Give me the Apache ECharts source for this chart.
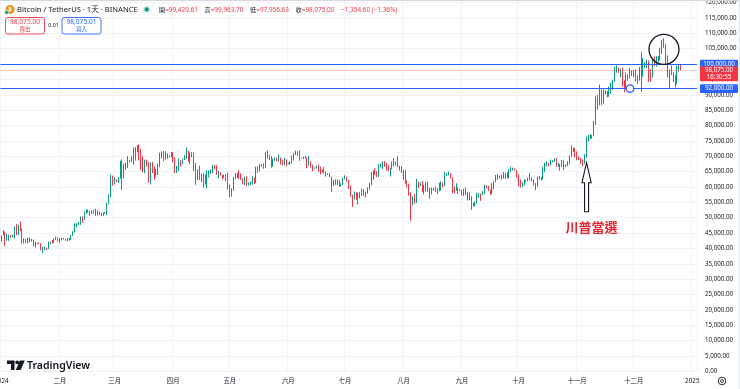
<!DOCTYPE html>
<html><head><meta charset="utf-8">
<script src="https://cdn.jsdelivr.net/npm/echarts@6/dist/echarts.min.js"></script>
<style>html,body{margin:0;padding:0;background:#fff}#c{width:740px;height:389px}</style>
</head><body><div id="c"></div>
<script>
// ---- Data (BTC/USDT daily, values in thousands of USD) ----
const firstOpenK = 42.3;
const closeK = [
 44.2,44.9,42.8,44.2,44.2,43.9,43.9,47.0,46.1,46.6,46.3,42.8,42.8,41.7,42.5,43.1,42.7,41.3,41.6,41.7,41.6,39.5,39.8,40.1,39.9,41.8,42.1,42.0,43.3,42.9,42.6,
 43.1,43.2,43.0,42.6,42.7,43.1,44.3,45.3,47.1,47.8,48.3,50.0,49.7,51.8,52.0,52.1,51.6,52.1,51.7,52.3,51.9,51.3,50.7,51.6,51.7,54.5,57.1,62.5,61.1,
 62.4,62.0,63.1,68.2,63.8,66.1,66.9,68.3,68.5,69.0,72.1,71.5,73.1,71.4,69.5,65.3,68.4,67.6,62.0,67.9,65.5,63.8,64.0,67.2,69.9,69.9,69.5,70.7,69.9,69.6,71.3,
 69.7,65.5,65.9,68.5,67.8,68.9,69.4,71.6,69.1,70.6,70.0,67.1,63.9,65.7,63.4,63.8,61.3,63.5,63.8,64.9,64.9,66.8,66.4,64.3,64.5,63.8,63.5,63.1,63.8,60.6,
 58.3,59.1,62.9,63.9,64.0,63.2,62.3,61.2,63.1,60.8,60.8,61.5,62.9,61.6,66.3,65.2,67.0,67.0,66.3,71.4,70.1,69.1,67.9,68.5,69.3,68.5,69.4,68.4,67.6,68.4,67.5,
 67.8,67.8,68.8,70.6,71.1,70.8,69.4,69.3,69.6,69.5,67.3,68.2,66.8,66.0,66.2,66.6,66.5,65.2,64.9,64.8,64.1,64.3,63.2,60.3,61.8,60.9,61.6,60.3,60.9,62.7,
 62.8,62.0,60.2,57.0,56.7,58.2,55.9,56.7,58.0,57.7,57.3,57.9,59.2,60.8,64.7,65.0,64.1,63.9,66.7,67.2,68.2,67.5,65.9,65.4,65.8,67.9,68.0,68.2,66.8,66.2,64.6,
 65.4,61.5,60.7,58.1,54.0,56.0,55.1,61.7,60.9,60.9,58.7,59.4,60.6,58.7,57.6,58.9,59.5,58.4,59.5,59.0,61.2,60.4,64.0,64.2,64.2,62.8,59.4,59.0,59.4,59.1,58.9,
 57.3,59.1,57.5,58.0,56.2,53.9,54.1,54.8,57.0,57.6,57.3,58.1,60.5,60.0,59.1,58.2,60.3,61.8,62.9,63.3,63.6,63.3,63.3,64.3,63.1,65.2,65.8,65.9,65.6,63.3,
 60.8,60.6,60.8,62.1,62.1,62.8,62.2,62.1,60.6,60.3,62.4,63.2,62.9,66.0,67.0,67.6,67.4,68.4,68.4,69.0,67.4,67.4,66.6,68.2,66.6,67.0,67.9,69.9,72.7,72.3,70.2,
 69.5,69.3,68.7,67.8,70.0,75.6,75.9,76.5,76.7,80.4,88.7,88.0,90.5,87.3,91.1,90.6,89.8,90.5,92.3,94.3,98.3,98.9,97.8,98.0,93.0,91.9,95.9,95.6,97.5,96.4,
 97.2,95.8,96.0,98.7,97.0,99.8,99.9,101.1,97.4,96.7,101.2,100.0,101.4,101.4,104.3,106.1,106.1,100.2,97.5,97.8,97.3,95.2,94.9,98.7,99.43,98.075
];
const highK = [
 44.2,45.9,45.5,44.8,44.5,44.4,44.5,47.2,47.9,47.7,48.9,46.5,43.3,43.1,43.4,43.6,43.2,42.9,42.2,41.9,41.9,41.7,40.5,40.6,40.3,42.2,42.2,42.8,43.3,43.9,43.7,
 43.3,43.5,43.4,43.1,43.5,43.4,44.4,45.6,48.2,48.2,48.6,50.4,50.4,52.0,52.8,52.6,52.2,52.4,52.5,52.9,52.4,52.0,51.6,51.7,51.9,54.9,57.6,64.0,63.7,
 63.2,62.4,63.2,68.5,69.0,67.6,67.9,70.1,68.7,70.0,72.8,73.0,73.6,73.8,72.4,70.0,68.9,68.9,68.1,68.0,68.2,66.7,65.9,67.6,71.2,71.6,71.7,71.6,71.0,70.3,71.4,
 71.3,69.7,66.9,69.3,68.7,69.0,70.3,72.8,71.8,71.2,71.3,71.2,67.9,65.8,66.9,64.4,64.5,64.1,65.4,65.4,65.7,67.2,67.2,67.1,65.3,64.8,63.9,64.0,64.2,64.7,
 60.8,59.6,63.3,64.5,64.6,65.5,64.4,62.9,63.4,63.5,61.5,61.8,63.5,63.1,66.6,66.7,67.5,67.4,67.7,71.5,71.9,70.6,70.1,69.2,69.6,69.6,70.6,69.6,68.9,69.5,69.0,
 67.9,68.4,70.3,71.1,71.8,71.6,71.9,69.6,69.9,70.2,69.6,70.0,68.4,67.3,66.4,66.9,67.3,66.6,65.7,66.5,65.1,64.5,64.5,63.4,62.3,62.5,62.4,62.2,61.2,63.0,
 63.8,63.3,62.3,60.5,57.5,58.5,58.3,58.2,58.3,59.5,59.4,58.5,59.9,61.4,64.9,65.4,66.1,65.1,67.4,67.6,68.4,68.5,67.8,67.1,66.1,68.3,69.4,68.3,70.0,66.9,66.8,
 65.6,65.6,62.2,61.1,58.3,57.0,57.8,62.7,61.8,61.5,61.9,60.7,61.6,61.8,59.8,59.8,59.7,60.2,59.6,61.4,61.8,61.4,64.9,64.5,65.0,64.5,63.2,60.2,61.2,59.9,59.4,
 59.0,59.4,59.8,58.5,58.3,57.0,54.9,55.3,58.1,58.0,57.9,58.6,60.7,60.6,60.4,59.2,61.3,61.8,63.9,64.1,63.7,64.0,64.8,64.5,64.8,65.8,66.5,66.3,66.1,65.6,
 64.1,62.4,61.5,62.5,62.4,63.0,64.5,63.2,62.5,61.3,63.4,63.5,63.3,66.5,67.9,68.4,67.9,68.9,68.7,69.4,69.5,67.8,67.5,68.8,68.7,67.4,68.4,70.3,73.6,72.9,72.7,
 71.6,70.0,69.4,69.0,70.6,76.4,76.9,77.2,76.9,81.5,89.5,89.9,93.3,91.8,91.8,91.5,91.2,92.6,94.0,94.9,99.0,99.6,98.8,98.6,98.9,94.7,97.2,96.6,98.7,97.9,
 97.9,98.2,96.3,99.0,103.9,101.9,100.5,101.4,101.2,98.3,101.9,102.5,102.5,102.6,105.3,107.8,108.4,106.5,102.8,98.2,99.5,97.4,96.4,99.5,99.9,99.964
];
const lowK = [
 42.2,44.2,40.8,42.6,42.5,43.4,43.6,43.2,44.3,44.4,45.6,41.5,41.7,41.7,41.7,42.0,42.2,40.7,40.3,41.4,41.5,39.4,38.5,39.5,39.5,39.8,41.4,41.6,41.8,42.7,42.3,
 41.9,42.6,42.9,42.5,42.3,42.6,42.8,44.1,45.2,46.8,47.6,47.7,48.3,49.3,51.3,51.6,50.6,51.2,51.2,50.6,50.8,50.9,50.5,50.6,51.3,50.9,54.4,56.7,60.4,
 60.8,61.6,61.3,62.8,59.0,62.8,65.6,66.2,68.0,68.2,67.2,68.6,71.3,68.6,65.6,64.8,64.5,66.6,61.3,60.8,64.5,62.3,63.3,63.9,66.4,69.3,68.4,68.9,69.2,69.6,69.6,
 68.1,64.5,64.5,65.1,66.5,67.4,68.8,69.1,68.2,67.5,69.6,65.1,60.7,62.3,62.3,61.6,59.8,60.8,59.6,63.1,64.3,64.5,65.8,63.9,62.8,63.7,62.4,62.9,61.8,59.2,
 56.6,56.9,58.8,62.6,62.9,62.7,62.3,60.9,60.6,60.2,60.5,60.6,60.8,60.9,61.3,64.6,65.1,66.6,65.9,66.1,69.2,68.8,66.3,66.6,68.5,68.3,68.2,67.3,67.1,67.1,66.7,
 67.4,67.3,67.6,68.6,70.4,70.1,68.5,69.2,69.1,69.2,66.1,66.9,66.3,65.1,65.9,66.0,65.0,64.1,64.7,64.5,63.4,63.9,63.2,58.4,60.3,60.7,60.6,60.0,60.3,60.7,
 62.5,61.8,59.4,56.8,53.5,56.0,55.8,54.3,56.3,57.2,57.1,56.6,57.8,59.2,60.6,62.4,63.9,63.2,63.3,66.3,65.8,66.6,65.4,65.1,63.4,65.8,66.6,67.0,66.5,65.3,64.5,
 62.3,61.1,59.9,57.2,49.0,54.0,54.6,54.8,59.6,60.3,58.4,57.6,58.5,58.4,56.1,57.7,58.8,58.4,57.8,58.6,58.8,59.8,60.3,63.6,63.8,62.8,58.1,57.9,58.8,57.7,58.7,
 57.2,57.1,57.4,55.6,55.7,52.6,53.7,53.6,54.6,56.4,55.5,57.3,57.6,59.5,58.7,57.5,57.6,59.2,61.6,62.3,62.8,62.4,62.7,62.6,62.9,62.7,64.9,65.4,65.4,62.9,
 60.2,59.8,59.9,60.5,61.7,61.8,62.1,61.8,60.5,58.9,60.1,62.4,62.1,62.4,64.8,66.7,66.7,67.1,68.0,68.1,66.6,66.6,65.3,66.5,65.5,66.5,66.8,67.5,69.8,71.4,69.6,
 68.8,68.8,67.5,66.8,67.5,69.4,74.8,75.6,75.8,76.5,80.2,85.1,86.6,86.7,87.1,90.1,89.2,89.4,90.4,91.6,94.1,97.2,97.1,95.7,92.6,90.8,91.8,94.6,95.3,96.1,
 95.7,94.4,93.6,94.6,91.0,95.9,98.8,98.7,94.2,94.3,95.7,99.3,99.2,100.6,101.2,103.3,105.3,100.0,95.7,92.2,96.4,94.2,92.4,93.4,97.6,97.957
];
const lastOpenK = 99.42961;
const monthNames = ['一月','二月','三月','四月','五月','六月','七月','八月','九月','十月','十一月','十二月'];
const levelLines = [100000, 92000];
const lastPrice = 98075;
const lastPriceText = '98,075.00';
const countdownText = '16:30:55';
const peakMark = { date: '2024-12-17', value: 104800 };
const supportTouch = { date: '2024-11-29', value: 92000 };
const arrowTip = { date: '2024-11-06', value: 67900 };
const noteText = '川普當選';

// calendar categories: 2024-01-01 .. 2025-01-03
const categories = [];
for (let i = 0; i < 369; i++) {
  categories.push(new Date(Date.UTC(2024, 0, 1) + i * 86400000).toISOString().slice(0, 10));
}

// build OHLC in USD: [open, close, low, high]
const candles = closeK.map((c, i) => {
  let o = i === 0 ? firstOpenK : (i === closeK.length - 1 ? lastOpenK : closeK[i - 1]);
  const h = Math.max(highK[i], o, c), l = Math.min(lowK[i], o, c);
  return [o * 1000, c * 1000, l * 1000, h * 1000];
});

const FONT = '"Noto Sans","Noto Sans CJK TC",sans-serif';
const isMonthStart = (idx, v) => typeof v === 'string' && v.slice(8) === '01';
const fmtNum = v => v.toLocaleString('en-US', { minimumFractionDigits: 2, maximumFractionDigits: 2 });

const chart = echarts.init(document.getElementById('c'), null, { renderer: 'canvas' });
chart.setOption({
  animation: false,
  backgroundColor: '#ffffff',
  textStyle: { fontFamily: FONT },
  grid: { left: 0.45, right: 43, top: 2.6, bottom: 17.6, containLabel: false, outerBoundsMode: 'none' },
  xAxis: {
    type: 'category', data: categories, boundaryGap: true,
    axisLine: { show: false }, axisTick: { show: false },
    axisLabel: {
      interval: isMonthStart, margin: 6.5, fontSize: 6.3, color: '#131722', fontFamily: FONT,
      alignMinLabel: 'center', alignMaxLabel: 'center', hideOverlap: false,
      formatter: v => { const m = +v.slice(5, 7); return m === 1 ? v.slice(0, 4) : monthNames[m - 1]; }
    },
    splitLine: { show: true, interval: isMonthStart, lineStyle: { color: '#f2f3f6', width: 1 } }
  },
  yAxis: {
    type: 'value', position: 'right', min: 0, max: 120000, interval: 5000, scale: false, z: 0,
    axisLine: { show: false }, axisTick: { show: false },
    axisLabel: { margin: 8, fontSize: 6.2, color: '#131722', fontFamily: FONT, formatter: fmtNum },
    splitLine: { show: true, lineStyle: { color: '#f2f3f6', width: 1 } }
  },
  series: [{
    type: 'candlestick', data: candles, barWidth: '62%',
    itemStyle: { color: '#089981', color0: '#f23645', borderColor: '#089981', borderColor0: '#f23645', borderWidth: 1 },
    markLine: {
      silent: true, symbol: ['none', 'none'], animation: false, label: { show: false },
      data: [
        { yAxis: levelLines[0], lineStyle: { color: '#2962ff', width: 1.2, type: 'solid' } },
        { yAxis: levelLines[1], lineStyle: { color: '#2962ff', width: 1.2, type: 'solid' } },
        { yAxis: lastPrice, lineStyle: { color: '#f23645', width: 1, type: 'dotted', opacity: 0.55 } }
      ]
    },
    markPoint: {
      silent: true, animation: false, label: { show: false },
      data: [
        { coord: [peakMark.date, peakMark.value], symbol: 'circle', symbolSize: 30,
          itemStyle: { color: 'rgba(0,0,0,0)', borderColor: '#131722', borderWidth: 1.3 } },
        { coord: [supportTouch.date, supportTouch.value], symbol: 'circle', symbolSize: 7.5,
          itemStyle: { color: '#ffffff', borderColor: '#2962ff', borderWidth: 1.4 } }
      ]
    }
  }]
});

// overlay graphics (positioned from data where they relate to data)
const yPix = v => chart.convertToPixel({ yAxisIndex: 0 }, v);
const tip = chart.convertToPixel({ xAxisIndex: 0, yAxisIndex: 0 }, [arrowTip.date, arrowTip.value]);
const axX = 700;
const ZG = 1000;
function axisBoxEls(v, text, color) {
  const y = yPix(v);
  return [
    { type: 'rect', z: ZG, zlevel: 1, shape: { x: axX, y: y - 4.3, width: 38, height: 8.6, r: 1 }, style: { fill: color } },
    { type: 'text', z: ZG + 1, zlevel: 1, x: axX + 19, y: y, style: { text: text, fill: '#fff', font: '6.2px ' + FONT, align: 'center', verticalAlign: 'middle' } }
  ];
}
const yl = yPix(lastPrice);
const tx = tip[0], ty = tip[1];
const g = (o) => Object.assign({ z: ZG }, o);
chart.setOption({
  graphic: [
    g({ type: 'rect', shape: { x: 0, y: 0, width: 740, height: 1 }, style: { fill: '#d6d8dd' } }),
    g({ type: 'rect', shape: { x: 739, y: 0, width: 1, height: 389 }, style: { fill: '#e0e3eb' } }),
    // header
    g({ type: 'circle', shape: { cx: 10, cy: 9.5, r: 4.6 }, style: { fill: '#f7931a' } }),
    g({ type: 'text', z: ZG + 1, x: 10, y: 9.7, style: { text: '₿', fill: '#fff', font: 'bold 6px ' + FONT, align: 'center', verticalAlign: 'middle' } }),
    g({ type: 'circle', z: ZG + 2, shape: { cx: 6.6, cy: 12.4, r: 2.1 }, style: { fill: '#26a17b', stroke: '#fff', lineWidth: 0.6 } }),
    g({ type: 'text', x: 17, y: 9.8, style: { text: 'Bitcoin / TetherUS · 1天 · BINANCE', fill: '#131722', font: '7.6px ' + FONT, verticalAlign: 'middle' } }),
    g({ type: 'circle', shape: { cx: 146.7, cy: 9.4, r: 3.4 }, style: { fill: '#c9ece4' } }),
    g({ type: 'circle', z: ZG + 1, shape: { cx: 146.7, cy: 9.4, r: 2.1 }, style: { fill: '#089981' } }),
    g({ type: 'text', x: 159, y: 10, style: {
      text: '{l|開}{v|=99,429.61}  {l|高}{v|=99,963.70}  {l|低}{v|=97,956.63}  {l|收}{v|=98,075.00}  {v|−1,354.60 (−1.36%)}',
      verticalAlign: 'middle',
      rich: { l: { fill: '#131722', font: '6.2px ' + FONT }, v: { fill: '#f23645', font: '6.4px ' + FONT } } } }),
    g({ type: 'rect', shape: { x: 5.5, y: 17.5, width: 39, height: 16.5, r: 2.5 }, style: { fill: '#fff', stroke: '#f23645', lineWidth: 0.9 } }),
    g({ type: 'text', z: ZG + 1, x: 25, y: 22.6, style: { text: '98,075.00', fill: '#f23645', font: '6.6px ' + FONT, align: 'center', verticalAlign: 'middle' } }),
    g({ type: 'text', z: ZG + 1, x: 25, y: 29.6, style: { text: '賣出', fill: '#f23645', font: '5.6px ' + FONT, align: 'center', verticalAlign: 'middle' } }),
    g({ type: 'text', x: 53.5, y: 25.4, style: { text: '0.01', fill: '#131722', font: '5.4px ' + FONT, align: 'center', verticalAlign: 'middle' } }),
    g({ type: 'rect', shape: { x: 62, y: 17.5, width: 39, height: 16.5, r: 2.5 }, style: { fill: '#fff', stroke: '#2962ff', lineWidth: 0.9 } }),
    g({ type: 'text', z: ZG + 1, x: 81.5, y: 22.6, style: { text: '98,075.01', fill: '#2962ff', font: '6.6px ' + FONT, align: 'center', verticalAlign: 'middle' } }),
    g({ type: 'text', z: ZG + 1, x: 81.5, y: 29.6, style: { text: '買入', fill: '#2962ff', font: '5.6px ' + FONT, align: 'center', verticalAlign: 'middle' } }),
    // price-scale boxes
    ...axisBoxEls(levelLines[0], fmtNum(levelLines[0]), '#2962ff'),
    ...axisBoxEls(levelLines[1], fmtNum(levelLines[1]), '#2962ff'),
    { type: 'rect', z: ZG, zlevel: 1, shape: { x: axX, y: yl - 3.8, width: 38, height: 15, r: 1 }, style: { fill: '#f23645' } },
    { type: 'text', z: ZG + 1, zlevel: 1, x: axX + 19, y: yl + 0.2, style: { text: lastPriceText, fill: '#fff', font: '6.2px ' + FONT, align: 'center', verticalAlign: 'middle' } },
    { type: 'text', z: ZG + 1, zlevel: 1, x: axX + 19, y: yl + 7.2, style: { text: countdownText, fill: '#fff', font: '6.2px ' + FONT, align: 'center', verticalAlign: 'middle' } },
    // arrow + note
    g({ type: 'polygon', shape: { points: [[tx, ty], [tx + 4.6, ty + 20], [tx + 2, ty + 20], [tx + 2, ty + 49], [tx - 2, ty + 49], [tx - 2, ty + 20], [tx - 4.6, ty + 20]] },
      style: { fill: '#ffffff', stroke: '#131722', lineWidth: 1.1 } }),
    g({ type: 'text', x: tx + 5, y: ty + 66, style: { text: noteText, fill: '#e3262f', font: 'bold 13px ' + FONT, align: 'center', verticalAlign: 'middle' } }),
    // TradingView logo
    g({ type: 'polygon', shape: { points: [[7, 360.5], [14.5, 360.5], [14.5, 370], [11, 370], [11, 364], [7, 364]] }, style: { fill: '#131722' } }),
    g({ type: 'circle', shape: { cx: 17.2, cy: 362.3, r: 1.9 }, style: { fill: '#131722' } }),
    g({ type: 'polygon', shape: { points: [[19.8, 360.5], [24.8, 360.5], [20.6, 370], [15.8, 370]] }, style: { fill: '#131722' } }),
    g({ type: 'text', x: 27, y: 365.6, style: { text: 'TradingView', fill: '#131722', font: '600 10.5px ' + FONT, verticalAlign: 'middle' } }),
    // settings icon
    g({ type: 'circle', shape: { cx: 722, cy: 381, r: 3.8 }, style: { fill: 'none', stroke: '#131722', lineWidth: 0.9 } }),
    g({ type: 'circle', shape: { cx: 722, cy: 381, r: 1.5 }, style: { fill: 'none', stroke: '#131722', lineWidth: 0.8 } })
  ]
});
</script></body></html>
